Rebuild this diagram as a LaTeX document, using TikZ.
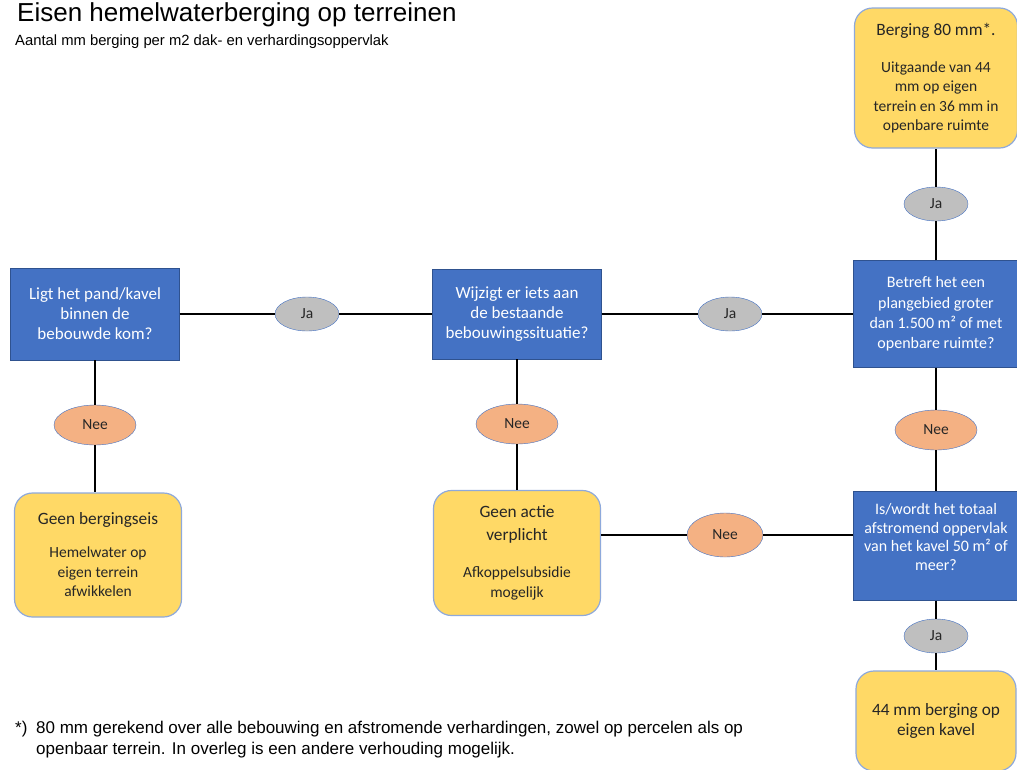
\documentclass[tikz,border=0pt]{standalone}
\usepackage{fontspec}
\setmainfont{Carlito}
\newfontfamily\arialfont{Liberation Sans}
\usepackage{tikz}
\usetikzlibrary{shapes.geometric,positioning}
\definecolor{qblue}{HTML}{4472C4}
\definecolor{qedge}{HTML}{2F528F}
\definecolor{ansyellow}{HTML}{FFD966}
\definecolor{ansedge}{HTML}{8EA9DB}
\definecolor{jagray}{HTML}{BFBFBF}
\definecolor{neeorange}{HTML}{F4B183}
\definecolor{ink}{HTML}{262626}
\newcommand{\lead}{\fontsize{17.3}{20}\selectfont}
\newcommand{\detail}{\fontsize{15.5}{19.5}\selectfont}

\begin{document}
\begin{tikzpicture}[x=1pt,y=-1pt,
  question/.style={rectangle,draw=qedge,fill=qblue,text=white,minimum width=169pt,minimum height=92pt,align=center,font=\fontsize{17}{20}\selectfont,inner sep=2pt},
  answer/.style={rectangle,rounded corners=18pt,draw=ansedge,line width=1.2pt,fill=ansyellow,text=ink,minimum width=167pt,align=center,font=\detail},
  ja/.style={ellipse,draw=qblue,fill=jagray,minimum width=64pt,minimum height=34pt,inner sep=0pt,text=ink,font=\fontsize{15.5}{17}\selectfont},
  nee/.style={ja,fill=neeorange,minimum width=82pt,minimum height=40pt},
  link/.style={black,line width=1.8pt}]
\useasboundingbox (0,0) rectangle (1017,769);
\node[anchor=base west,inner sep=0pt,font=\arialfont\fontsize{26}{30}\selectfont] (title) at (17,21) {Eisen hemelwaterberging op terreinen};
\node[anchor=base west,inner sep=0pt,font=\arialfont\fontsize{14.8}{17}\selectfont] (subtitle) at (15,45) {Aantal mm berging per m2 dak- en verhardingsoppervlak};
\node[question] (q1) at (95,314) {Ligt het pand/kavel\\binnen de\\bebouwde kom?};
\node[question,minimum height=90pt] (q2) at (517,314) {Wijzigt er iets aan\\de bestaande\\bebouwingssituatie?};
\node[question,minimum width=166pt,minimum height=107pt,font=\fontsize{16}{20.3}\selectfont] (q3) at (936,314) {Betreft het een\\plangebied groter\\dan 1.500 m² of met\\openbare ruimte?};
\node[question,minimum width=166pt,minimum height=109pt,font=\fontsize{16}{18.5}\selectfont] (q4) at (936,546) {Is/wordt het totaal\\afstromend oppervlak\\van het kavel 50 m² of\\meer?\\ \mbox{}};
\node[answer,minimum width=163pt,minimum height=140pt] (a1) at (936,78) {\lead Berging 80 mm*.\\[17.5pt]Uitgaande van 44\\mm op eigen\\terrein en 36 mm in\\openbare ruimte};
\node[answer,minimum height=124pt] (a2) at (98,555) {\lead Geen bergingseis\\[13.5pt]Hemelwater op\\eigen terrein\\afwikkelen};
\node[answer,minimum height=125pt] (a3) at (517,553) {\lead Geen actie\\[3.5pt]\lead verplicht\\[17.5pt]Afkoppelsubsidie\\mogelijk};
\node[answer,minimum width=160pt,minimum height=100pt,font=\lead] (a4) at (936,721) {44 mm berging op\\eigen kavel};
\node[ja] (j1) at (307,314) {Ja};
\node[ja] (j2) at (730,314) {Ja};
\node[ja] (j3) at (936,204) {Ja};
\node[ja] (j4) at (936,636) {Ja};
\node[nee] (n1) at (95,425) {Nee};
\node[nee] (n2) at (517,424) {Nee};
\node[nee] (n3) at (936,430) {Nee};
\node[nee,minimum width=76pt,minimum height=44pt] (n4) at (725,535) {Nee};
\draw[link] (q1) -- (j1) -- (q2) -- (j2) -- (q3);
\draw[link] (q3) -- (j3) -- (a1);
\draw[link] (q3) -- (n3) -- (q4);
\draw[link] (q4) -- (j4) -- (a4);
\draw[link] (q1) -- (n1) -- (n1 |- a2.north);
\draw[link] (q2) -- (n2) -- (a3);
\draw[link] (n4 -| a3.east) -- (n4) -- (n4 -| q4.west);
\node[anchor=base west,inner sep=0pt,font=\arialfont\fontsize{17}{21}\selectfont] (fnmark) at (15,733) {*)};
\node[anchor=north west,inner sep=0pt,align=left,font=\arialfont\fontsize{17}{21}\selectfont] (fntext) at (36,721) {80 mm gerekend over alle bebouwing en afstromende verhardingen, zowel op percelen als op\\openbaar terrein. In overleg is een andere verhouding mogelijk.};
\end{tikzpicture}
\end{document}
